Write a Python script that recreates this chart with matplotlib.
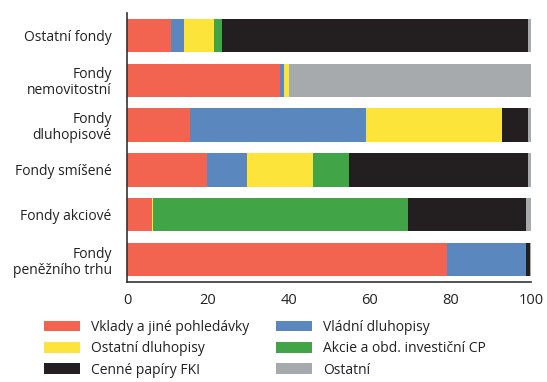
import matplotlib
matplotlib.use("Agg")
import matplotlib.pyplot as plt
import numpy as np

categories = ["Ostatní fondy", "Fondy\nnemovitostní", "Fondy\ndluhopisové",
              "Fondy smíšené", "Fondy akciové", "Fondy\npeněžního trhu"]
series_names = ["Vklady a jiné pohledávky", "Vládní dluhopisy", "Ostatní dluhopisy",
                "Akcie a obd. investiční CP", "Cenné papíry FKI", "Ostatní"]
vklady     = [10.8, 37.8, 15.5, 19.7, 6.1, 79.2]
vladni     = [3.2, 1.0, 43.6, 9.9, 0.15, 19.6]
ost_dluh   = [7.5, 1.2, 33.7, 16.4, 0.15, 0.0]
akcie      = [2.0, 0.0, 0.0, 8.9, 63.1, 0.0]
fki        = [75.8, 0.0, 6.5, 44.4, 29.3, 1.0]
ostatni    = [0.7, 60.0, 0.7, 0.7, 1.2, 0.2]
xticks = [0, 20, 40, 60, 80, 100]

colors = ["#F26450", "#5A87BE", "#FCE43A", "#41A547", "#231F20", "#A7AAAD"]

plt.rcParams['font.family'] = ['Open Sans', 'DejaVu Sans']

fig = plt.figure(figsize=(5.47, 3.82), dpi=100)
ax = fig.add_axes([127/547, 100/382, 404/547, 269/382])

data = [vklady, vladni, ost_dluh, akcie, fki, ostatni]
y = np.arange(len(categories))
left = np.zeros(len(categories))
handles = []
for vals, c, name in zip(data, colors, series_names):
    h = ax.barh(y, vals, left=left, height=0.74, color=c, label=name, linewidth=0)
    handles.append(h)
    left += np.array(vals)

ax.set_ylim(len(categories) - 0.5, -0.5)
ax.set_xlim(0, 100)
ax.set_yticks(y)
ax.set_yticklabels(categories, fontsize=10, color="#222222", linespacing=1.1)
ax.set_xticks(xticks)
ax.set_xticklabels([str(t) for t in xticks], fontsize=10.5, color="#222222")
ax.tick_params(axis='both', length=0, pad=8)
ax.tick_params(axis='y', pad=11)
for s in ["top", "right"]:
    ax.spines[s].set_visible(False)
for s in ["left", "bottom"]:
    ax.spines[s].set_color("#333333")
    ax.spines[s].set_linewidth(1.2)

order = [0, 2, 4, 1, 3, 5]
fig.legend(handles=[handles[i] for i in order], labels=[series_names[i] for i in order],
           loc='upper left',
           bbox_to_anchor=(44/547, 1 - 320/382), ncol=2, frameon=False,
           fontsize=10, handlelength=2.6, handleheight=0.8, handletextpad=0.8,
           columnspacing=1.9, labelspacing=0.45, borderpad=0, borderaxespad=0,
           labelcolor="#222222")

fig.savefig("out.png", dpi=100)
